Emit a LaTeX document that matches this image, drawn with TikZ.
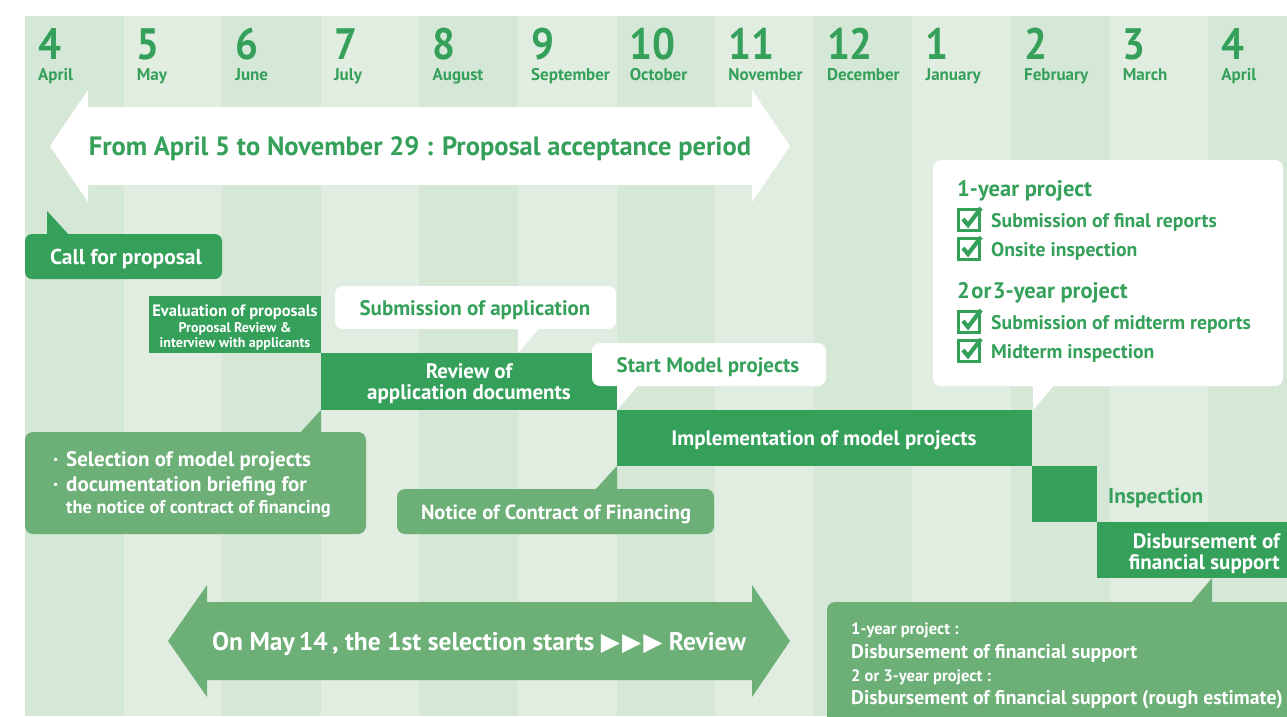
\documentclass[tikz,border=0pt]{standalone}
\usepackage{fontspec}
\setmainfont{PT Sans}
\newfontfamily\numfont{PT Sans}[FakeStretch=0.92]
\newfontfamily\symfont{DejaVu Sans}
\usetikzlibrary{fit}
\definecolor{dg}{HTML}{34A05A}
\definecolor{mg}{HTML}{6CAF77}
\definecolor{sd}{HTML}{D5E7D6}
\definecolor{sl}{HTML}{E1EDE1}
\newcommand\fsz[2]{\fontsize{#1}{#2}\selectfont\bfseries}
\tikzset{
  chk/.pic={
    \draw[dg,line width=2.6pt] (-10.5,-10.5) rectangle (10.5,10.5);
    \draw[dg,line width=4.2pt,line join=miter] (-6,-1) -- (-1,5) -- (12,-12);
  }
}
\begin{document}
\begin{tikzpicture}[x=1pt,y=-1pt,
  dbox/.style={inner sep=0pt,fill=dg},
  mbox/.style={inner sep=0pt,fill=mg,rounded corners=8pt},
  wbox/.style={inner sep=0pt,fill=white,rounded corners=8pt},
  lbl/.style={inner sep=0pt,anchor=base west},
  clbl/.style={inner sep=0pt,anchor=base},
]
\useasboundingbox (0,0) rectangle (1287,716);
\begin{scope}
\clip (0,0) rectangle (1287,716);
\fill[white] (0,0) rectangle (1287,716);
\foreach \i in {0,2,...,12} \fill[sd] ({25+98.6*\i},16) rectangle ({25+98.6*(\i+1)},716);
\foreach \i in {1,3,...,11} \fill[sl] ({25+98.6*\i},16) rectangle ({25+98.6*(\i+1)},716);

% month labels
\foreach \n/\m [count=\k from 0] in {4/April,5/May,6/June,7/July,8/August,9/September,10/October,11/November,12/December,1/January,2/February,3/March,4/April}{
  \node[lbl,text=dg,font={\numfont\fsz{44}{44}}] (num\k) at ({38+98.6*\k},59) {\n};
  \node[lbl,text=dg,font=\fsz{17}{17}] (mon\k) at ({38+98.6*\k},80) {\m};
}

% top white double arrow
\fill[white] (50,146) -- (88,90) -- (88,107) -- (752,107) -- (752,90) -- (790,146)
  -- (752,202) -- (752,185) -- (88,185) -- (88,202) -- cycle;
\node[clbl,text=dg,font=\fsz{26.5}{26.5}] (period) at (420,155) {From April 5 to November 29 : Proposal acceptance period};

% bottom green double arrow
\fill[mg] (168,641) -- (207,585) -- (207,602) -- (752,602) -- (752,585) -- (790,641)
  -- (752,697) -- (752,680) -- (207,680) -- (207,697) -- cycle;
\node[clbl,text=white,font=\fsz{25.5}{25.5}] (sel) at (479,650) {On May\,14\,, the 1st selection starts {\symfont\fontsize{25}{25}\selectfont ▶\kern2pt▶\kern2pt▶} Review};

% call for proposal
\node[dbox,rounded corners=7pt,fit={(25,234)(222,279)}] (call) {};
\fill[dg] (47,236) -- (47,211) -- (70,236) -- cycle;
\node[clbl,text=white,font=\fsz{21.5}{21.5}] (calltxt) at (126,264) {Call for proposal};

% evaluation
\node[dbox,fit={(149,296)(321,353)}] (eval) {};
\node[clbl,text=white,font=\fsz{16.5}{16.5}] (eval1) at (235,316) {Evaluation of proposals};
\node[clbl,text=white,font=\fsz{14}{14}] (eval2) at (235,332) {Proposal Review \&};
\node[clbl,text=white,font=\fsz{14}{14}] (eval3) at (235,347) {interview with applicants};

% review
\node[dbox,fit={(321,353)(617,410)}] (review) {};
\node[clbl,text=white,font=\fsz{21}{21}] (rev1) at (469,378) {Review of};
\node[clbl,text=white,font=\fsz{21}{21}] (rev2) at (469,399) {application documents};

% submission of application
\node[wbox,fit={(335,286)(616,329)}] (subm) {};
\fill[white] (518,326) -- (518,353) -- (541,326) -- cycle;
\node[clbl,text=dg,font=\fsz{21}{21}] (subtxt) at (475,315) {Submission of application};

% start model projects
\node[wbox,fit={(592,343)(826,386)}] (start) {};
\fill[white] (617,383) -- (617,410) -- (640,383) -- cycle;
\node[clbl,text=dg,font=\fsz{21}{21}] (starttxt) at (708,372) {Start Model projects};

% implementation
\node[dbox,fit={(617,410)(1032,466)}] (impl) {};
\node[clbl,text=white,font=\fsz{21}{21}] (impltxt) at (824,445) {Implementation of model projects};
\node[dbox,fit={(1032,466)(1097,522)}] (insp) {};
\node[lbl,text=dg,font=\fsz{21.5}{21.5}] (insplbl) at (1108,503) {Inspection};
\node[dbox,fit={(1097,522)(1292,578)}] (disb) {};
\node[inner sep=0pt,anchor=base east,text=white,font=\fsz{21}{21}] (disb1) at (1280,548) {Disbursement of};
\node[inner sep=0pt,anchor=base east,text=white,font=\fsz{21}{21}] (disb2) at (1280,569) {financial support};

% right callout
\node[wbox,fit={(933,160)(1283,386)}] (rc) {};
\fill[white] (1033,383) -- (1033,410) -- (1056,383) -- cycle;
\node[lbl,text=dg,font=\fsz{22.5}{22.5}] (h1) at (957,196) {1-year project};
\pic at (969,220) {chk};
\node[lbl,text=dg,font=\fsz{19.7}{19.7}] (i1) at (991,227) {Submission of final reports};
\pic at (969,249) {chk};
\node[lbl,text=dg,font=\fsz{19.7}{19.7}] (i2) at (991,256) {Onsite inspection};
\node[lbl,text=dg,font=\fsz{22.5}{22.5}] (h2) at (957,298) {2\kern1.5pt or\kern1.5pt 3-year project};
\pic at (969,322) {chk};
\node[lbl,text=dg,font=\fsz{19.7}{19.7}] (i3) at (991,329) {Submission of midterm reports};
\pic at (969,351) {chk};
\node[lbl,text=dg,font=\fsz{19.7}{19.7}] (i4) at (991,358) {Midterm inspection};

% selection callout
\node[mbox,fit={(25,432)(366,534)}] (selbox) {};
\fill[mg] (299,434) -- (321,410) -- (321,434) -- cycle;
\node[lbl,text=white,font=\fsz{21}{21}] (b1) at (53,466) {·};
\node[lbl,text=white,font=\fsz{21}{21}] (s1) at (66,466) {Selection of model projects};
\node[lbl,text=white,font=\fsz{21}{21}] (b2) at (53,491) {·};
\node[lbl,text=white,font=\fsz{21}{21}] (s2) at (66,491) {documentation briefing for};
\node[lbl,text=white,font=\fsz{18.4}{18.4}] (s3) at (66,513) {the notice of contract of financing};

% notice of contract
\node[mbox,fit={(397,489)(714,534)}] (notice) {};
\fill[mg] (594,491) -- (617,466) -- (617,491) -- cycle;
\node[clbl,text=white,font=\fsz{20.5}{20.5}] (noticetxt) at (556,519) {Notice of Contract of Financing};

% bottom-right callout
\node[mbox,fit={(827,602)(1300,740)}] (br) {};
\fill[mg] (1190,604) -- (1212,578) -- (1212,604) -- cycle;
\node[lbl,text=white,font=\fsz{16.5}{16.5}] (br1) at (851,634) {1-year project :};
\node[lbl,text=white,font=\fsz{19.8}{19.8}] (br2) at (851,658) {Disbursement of financial support};
\node[lbl,text=white,font=\fsz{16.5}{16.5}] (br3) at (851,681) {2 or 3-year project :};
\node[lbl,text=white,font=\fsz{19.8}{19.8}] (br4) at (851,704) {Disbursement of financial support (rough estimate)};
\end{scope}
\end{tikzpicture}
\end{document}
